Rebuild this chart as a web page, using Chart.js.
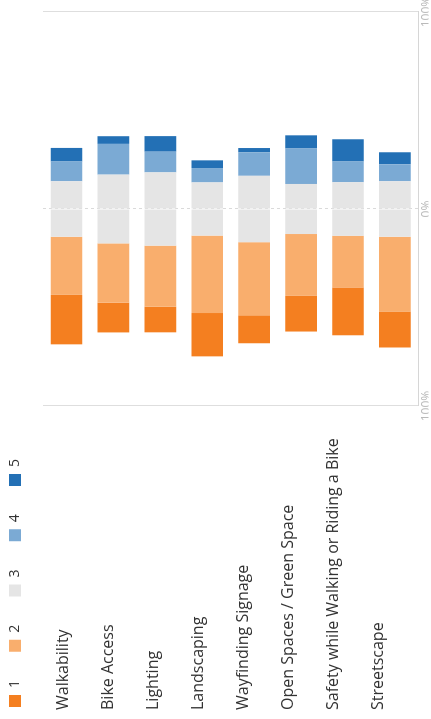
<!DOCTYPE html>
<html>
<head>
<meta charset="utf-8">
<script src="https://cdn.jsdelivr.net/npm/chart.js@4/dist/chart.umd.min.js"></script>
<style>
  html, body { margin: 0; padding: 0; background: #fff; overflow: hidden; }
  /* the chart is drawn as a horizontal bar chart, then turned a quarter turn */
  #wrap {
    position: absolute; left: 0; top: 0;
    width: 719px; height: 431px;
    transform-origin: 0 0;
    transform: translate(0, 719px) rotate(-90deg);
  }
</style>
</head>
<body>
<div id="wrap"><canvas id="chart" width="719" height="431"></canvas></div>
<script>
const categories = ['Walkability', 'Bike Access', 'Lighting', 'Landscaping', 'Wayfinding Signage',
    'Open Spaces / Green Space', 'Safety while Walking or Riding a Bike', 'Streetscape'];

// percent of answers per rating, 1 = lowest, 5 = highest
const rating1 = [25.1, 15.1, 13.0, 22.0, 14.2, 18.1, 24.3, 18.3];
const rating2 = [29.5, 30.1, 31.0, 39.3, 37.1, 31.4, 26.2, 37.9];
const rating3 = [28.2, 34.9, 37.2, 27.0, 33.7, 25.4, 27.2, 28.2];
const rating4 = [10.0, 15.6, 10.5, 7.3, 11.9, 18.0, 10.5, 8.6];
const rating5 = [6.9, 3.9, 7.9, 3.9, 2.2, 6.7, 11.3, 6.1];

const axisTicks = [-100, 0, 100];
const ratingNames = ['1', '2', '3', '4', '5'];
const colors = ['#F47F20', '#F9AE6D', '#E5E5E5', '#7BAAD4', '#2370B5'];

const neg = arr => arr.map(v => -v);
const half = arr => arr.map(v => v / 2);

// neutral is split round zero; negative side listed nearest-to-zero first
const datasets = [
    { label: ratingNames[2], data: neg(half(rating3)), backgroundColor: colors[2], dup: true },
    { label: ratingNames[1], data: neg(rating2), backgroundColor: colors[1] },
    { label: ratingNames[0], data: neg(rating1), backgroundColor: colors[0] },
    { label: ratingNames[2], data: half(rating3), backgroundColor: colors[2] },
    { label: ratingNames[3], data: rating4, backgroundColor: colors[3] },
    { label: ratingNames[4], data: rating5, backgroundColor: colors[4] }
];

const legendPad = 28.25;

// move the legend to the top-left corner, keeping the wide item spacing
const legendShift = {
    id: 'legendShift',
    afterLayout(chart) {
        chart.legend.left = 12 - legendPad;
        chart.legend.top = 8 - legendPad;
    }
};

Chart.defaults.font.family = "'Open Sans', sans-serif";

new Chart(document.getElementById('chart'), {
    type: 'bar',
    data: { labels: categories, datasets: datasets },
    plugins: [legendShift],
    options: {
        indexAxis: 'y',
        responsive: false,
        animation: false,
        layout: { padding: { left: 9, right: 0, top: 0, bottom: 0 } },
        datasets: { bar: { categoryPercentage: 1, barPercentage: 0.675, borderWidth: 0 } },
        plugins: {
            tooltip: { enabled: false },
            legend: {
                position: 'top',
                align: 'start',
                maxHeight: 43,
                labels: {
                    boxWidth: 12,
                    boxHeight: 12,
                    padding: legendPad,
                    color: '#333',
                    font: { size: 14 },
                    filter: (item, data) => !data.datasets[item.datasetIndex].dup,
                    sort: (a, b) => a.text.localeCompare(b.text)
                }
            }
        },
        scales: {
            x: {
                stacked: true,
                min: -100,
                max: 100,
                afterBuildTicks: s => { s.ticks = axisTicks.map(v => ({ value: v })); },
                afterFit: s => {
                    s.height = 10;
                    s.paddingRight = 12;
                },
                ticks: {
                    padding: 1,
                    color: '#b8b8b8',
                    font: { size: 12 },
                    callback: v => Math.abs(v) + '%'
                },
                grid: {
                    drawTicks: false,
                    color: c => c.tick && c.tick.value === 0 ? 'rgba(0,0,0,0)' : '#dedede'
                },
                border: { color: '#d6d6d6' }
            },
            x2: {
                axis: 'x',
                type: 'linear',
                position: 'bottom',
                min: -100,
                max: 100,
                afterBuildTicks: s => { s.ticks = [{ value: 0 }]; },
                ticks: { display: false },
                grid: { drawTicks: false, color: '#dadada', borderDash: [3, 3] },
                border: { display: false, dash: [3, 3] }
            },
            y: {
                stacked: true,
                display: false
            },
            // category names sit on their own axis, a little off the bar centres
            yl: {
                axis: 'y',
                type: 'linear',
                position: 'left',
                offset: false,
                reverse: true,
                min: -0.446,
                max: 7.898,
                afterBuildTicks: s => { s.ticks = categories.map((c, i) => ({ value: i })); },
                afterFit: s => { s.width = 304; },
                ticks: {
                    autoSkip: false,
                    crossAlign: 'far',
                    color: '#333',
                    font: { size: 16 },
                    callback: v => categories[v]
                },
                grid: { display: false, offset: false },
                border: { display: false }
            }
        }
    }
});
</script>
</body>
</html>
